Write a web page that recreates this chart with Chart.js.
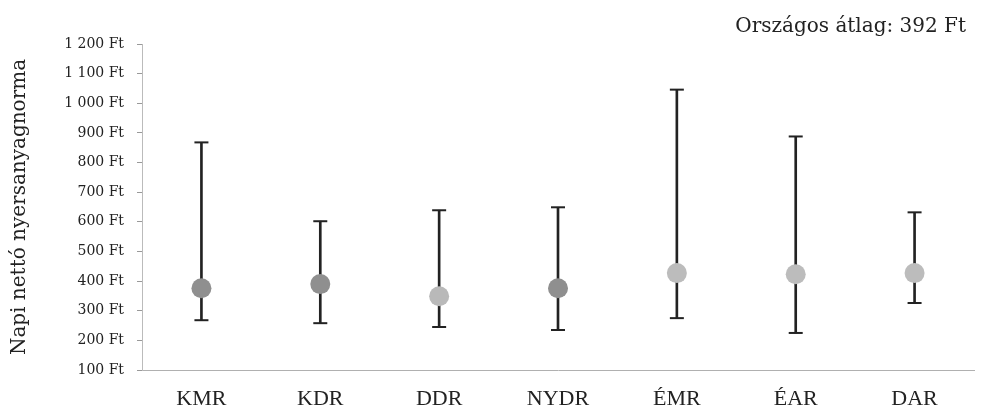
<!DOCTYPE html>
<html>
<head>
<meta charset="utf-8">
<script src="https://cdn.jsdelivr.net/npm/chart.js@4"></script>
<style>
html,body{margin:0;padding:0;background:#fff;}
#wrap{width:984px;height:416px;position:relative;}
</style>
</head>
<body>
<div id="wrap"><canvas id="c" width="984" height="416"></canvas></div>
<script>
const categories = ["KMR", "KDR", "DDR", "NYDR", "ÉMR", "ÉAR", "DAR"];
const means = [376, 390, 349, 376, 427, 423, 427];
const lows = [268, 258, 245, 235, 275, 225, 326];
const highs = [868, 602, 639, 649, 1046, 888, 632];
const pointColors = ["#8f8f8f", "#8f8f8f", "#b9b9b9", "#8f8f8f", "#bcbcbc", "#bcbcbc", "#bcbcbc"];
const titleText = "Országos átlag: 392 Ft";
const yTitle = "Napi nettó nyersanyagnorma";

function fmtFt(v) {
  return String(v).replace(/\B(?=(\d{3})+(?!\d))/g, " ") + " Ft";
}

const cornerTitle = {
  id: "cornerTitle",
  afterDraw(chart) {
    const ctx = chart.ctx;
    ctx.save();
    ctx.font = "20px 'DejaVu Serif'";
    ctx.fillStyle = "#222";
    ctx.textAlign = "right";
    ctx.textBaseline = "middle";
    ctx.fillText(titleText, 966, 27);
    ctx.restore();
  }
};

new Chart(document.getElementById("c"), {
  type: "bar",
  data: {
    labels: categories,
    datasets: [
      {
        type: "line",
        data: means,
        showLine: false,
        pointStyle: "circle",
        pointRadius: 10,
        pointBackgroundColor: pointColors,
        pointBorderWidth: 0,
        order: 0
      },
      {
        type: "line",
        data: highs,
        showLine: false,
        pointStyle: "line",
        pointRadius: 7,
        pointBorderColor: "#222",
        pointBorderWidth: 2,
        order: 1
      },
      {
        type: "line",
        data: lows,
        showLine: false,
        pointStyle: "line",
        pointRadius: 7,
        pointBorderColor: "#222",
        pointBorderWidth: 2,
        order: 1
      },
      {
        type: "bar",
        data: categories.map((c, i) => [lows[i], highs[i]]),
        backgroundColor: "#222",
        barThickness: 2,
        order: 2
      }
    ]
  },
  options: {
    responsive: false,
    animation: false,
    events: [],
    layout: { padding: { left: 0, right: 2, top: 44, bottom: 0 } },
    plugins: {
      legend: { display: false },
      tooltip: { enabled: false },
      title: { display: false }
    },
    scales: {
      x: {
        grid: { display: false, drawTicks: false },
        border: { display: true, color: "#b0b0b0", width: 1, dash: [2, 1] },
        ticks: {
          color: "#222",
          padding: 16,
          font: { family: "Liberation Serif", size: 22 }
        },
        afterFit: (s) => { s.height = 46; }
      },
      y: {
        min: 100,
        max: 1200,
        grid: { display: true, drawOnChartArea: false, drawTicks: true, tickLength: 5, color: "#999" },
        border: { display: true, color: "#bbb", width: 1 },
        ticks: {
          stepSize: 100,
          color: "#222",
          padding: 13,
          font: { family: "DejaVu Serif", size: 14 },
          callback: (v) => fmtFt(v)
        },
        title: {
          display: true,
          text: yTitle,
          color: "#222",
          font: { family: "DejaVu Serif", size: 20 },
          padding: { top: 8, bottom: 0 }
        },
        afterFit: (s) => { s.width = 142; }
      }
    }
  },
  plugins: [cornerTitle]
});
</script>
</body>
</html>
